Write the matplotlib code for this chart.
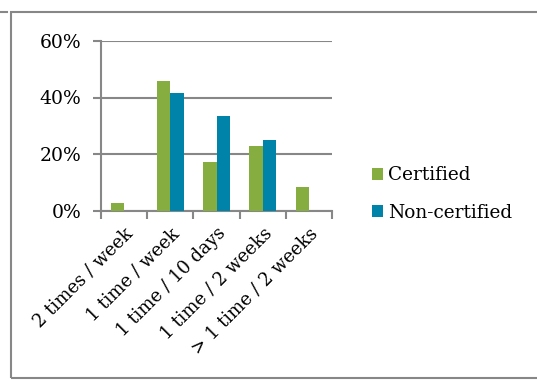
import matplotlib
matplotlib.use("Agg")
import matplotlib.pyplot as plt
from matplotlib.patches import Rectangle
from matplotlib.lines import Line2D
import numpy as np

categories = ["2 times / week", "1 time / week", "1 time / 10 days", "1 time / 2 weeks", "> 1 time / 2 weeks"]
certified = [2.7, 45.8, 17.1, 22.8, 8.3]
non_certified = [0, 41.7, 33.3, 25.0, 0]
yticks = [0, 20, 40, 60]
ytick_labels = ["0%", "20%", "40%", "60%"]

GREEN = "#86AD40"
BLUE = "#0083A9"
GRID = "#878787"
FONT = "DejaVu Serif"

W, H = 537, 381
fig = plt.figure(figsize=(W / 100, H / 100), dpi=100)
ax = fig.add_axes([101 / W, 1 - 210.5 / H, (332 - 101) / W, (210.5 - 41) / H])

x = np.arange(len(categories))
bw = 0.29
ax.bar(x - bw / 2, certified, bw, color=GREEN, label="Certified", zorder=3)
ax.bar(x + bw / 2, non_certified, bw, color=BLUE, label="Non-certified", zorder=3)

ax.set_xlim(-0.5, len(categories) - 0.5)
ax.set_ylim(0, 60)
ax.set_yticks(yticks)
ax.set_yticklabels(ytick_labels, fontsize=13.5, family=FONT)
ax.yaxis.grid(True, color=GRID, linewidth=1.5, zorder=0)
ax.tick_params(axis="y", length=6, width=1.5, color=GRID, pad=8)

ax.set_xticks(np.arange(len(categories) + 1) - 0.5, minor=False)
ax.set_xticklabels([""] * (len(categories) + 1))
ax.set_xticks(x, minor=True)
ax.set_xticklabels(categories, minor=True, rotation=45, ha="right",
                   rotation_mode="anchor", fontsize=13, family=FONT)
ax.tick_params(axis="x", which="major", length=6, width=1.5, color=GRID)
ax.tick_params(axis="x", which="minor", length=0, pad=10)

for s in ["top", "right"]:
    ax.spines[s].set_visible(False)
for s in ["left", "bottom"]:
    ax.spines[s].set_color(GRID)
    ax.spines[s].set_linewidth(1.5)

leg = ax.legend(loc="center left", bbox_to_anchor=(1.173, 0.097), frameon=False,
                prop={"family": FONT, "size": 13.3}, handlelength=0.6, handleheight=0.6,
                handletextpad=0.25, labelspacing=1.05, borderaxespad=0, borderpad=0)

# outer frame
fig.add_artist(Rectangle((10.5 / W, 1 - 378 / H), 1.0, (378 - 11.5) / H,
                         transform=fig.transFigure, fill=False, edgecolor=GRID, linewidth=1.5))
fig.add_artist(Line2D([0, 7 / W], [1 - 11.5 / H, 1 - 11.5 / H], transform=fig.transFigure,
                      color=GRID, linewidth=1.5))

fig.savefig("out.png", dpi=100)
